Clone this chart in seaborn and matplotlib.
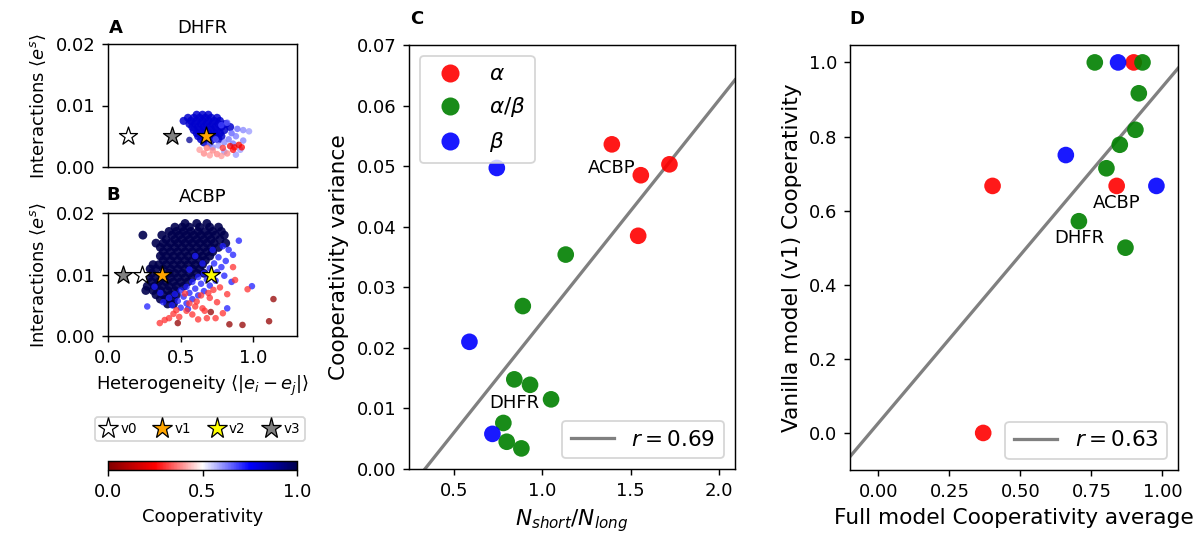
import numpy as np
import pandas as pd
import matplotlib
matplotlib.use("Agg")
import matplotlib.pyplot as plt
import seaborn as sns
from matplotlib.lines import Line2D
from matplotlib.cm import ScalarMappable
from matplotlib.colors import Normalize

# ---------------- data: panel A (DHFR) cloud ----------------
a_core_c = 0.82
a_core_rows = [
    (0.0085, [0.61, 0.65, 0.69]),
    (0.0080, [0.55, 0.59, 0.63, 0.67, 0.71, 0.75]),
    (0.0075, [0.52, 0.57, 0.61, 0.65, 0.69, 0.73, 0.77]),
    (0.0070, [0.56, 0.60, 0.64, 0.68, 0.72, 0.76, 0.81]),
    (0.0065, [0.58, 0.62, 0.66, 0.70, 0.74, 0.78, 0.84]),
    (0.0060, [0.59, 0.63, 0.67, 0.71, 0.75, 0.80]),
    (0.0055, [0.61, 0.65, 0.69, 0.73, 0.77]),
    (0.0050, [0.62, 0.66, 0.70, 0.74, 0.78]),
    (0.0045, [0.64, 0.68, 0.72, 0.76]),
    (0.0040, [0.66, 0.70]),
]
a_lightblue_x = [0.97, 0.93, 0.89, 0.85, 0.88, 0.83, 0.80, 0.76, 0.72, 0.86, 0.91, 0.78, 0.82, 0.74, 0.70, 0.88, 0.80, 0.93, 0.56]
a_lightblue_y = [0.0058, 0.0060, 0.0062, 0.0055, 0.0050, 0.0045, 0.0040, 0.0035, 0.0032, 0.0038, 0.0028, 0.0068, 0.0072, 0.0045, 0.0038, 0.0020, 0.0025, 0.0043, 0.0044]
a_lightblue_c = [0.6, 0.62, 0.65, 0.66, 0.63, 0.64, 0.62, 0.6, 0.62, 0.64, 0.6, 0.68, 0.66, 0.66, 0.63, 0.6, 0.6, 0.62, 0.9]
a_red_x = [0.84, 0.87, 0.90, 0.92, 0.86, 0.79, 0.66, 0.70, 0.75, 0.78, 0.72, 0.63, 0.82, 0.68]
a_red_y = [0.0034, 0.0032, 0.0036, 0.0032, 0.0028, 0.0031, 0.0022, 0.0019, 0.0021, 0.0018, 0.0027, 0.0028, 0.0022, 0.0031]
a_red_c = [0.22, 0.24, 0.22, 0.25, 0.26, 0.3, 0.38, 0.4, 0.38, 0.4, 0.38, 0.4, 0.38, 0.36]

# ---------------- data: panel B (ACBP) cloud ----------------
b_navy_c = 1.0
b_navy_rows = [
    (0.0183, [0.53, 0.61, 0.68]),
    (0.0177, [0.46, 0.51, 0.56, 0.63, 0.70, 0.76]),
    (0.0170, [0.42, 0.47, 0.52, 0.57, 0.62, 0.67, 0.72, 0.78]),
    (0.0164, [0.24, 0.37, 0.44, 0.49, 0.54, 0.59, 0.64, 0.69, 0.74, 0.80]),
    (0.0157, [0.40, 0.46, 0.51, 0.56, 0.61, 0.66, 0.71, 0.77]),
    (0.0151, [0.33, 0.38, 0.43, 0.48, 0.53, 0.58, 0.63, 0.68, 0.73, 0.81]),
    (0.0144, [0.36, 0.41, 0.46, 0.51, 0.56, 0.61, 0.66, 0.71, 0.76]),
    (0.0137, [0.38, 0.43, 0.48, 0.53, 0.58, 0.63, 0.68, 0.72]),
    (0.0130, [0.36, 0.40, 0.45, 0.50, 0.55, 0.60, 0.65, 0.70]),
    (0.0123, [0.38, 0.43, 0.48, 0.53, 0.58, 0.63, 0.67]),
    (0.0116, [0.31, 0.35, 0.40, 0.45, 0.50, 0.55, 0.60, 0.65]),
    (0.0109, [0.29, 0.33, 0.38, 0.43, 0.48, 0.53, 0.58, 0.63]),
    (0.0102, [0.30, 0.42, 0.46, 0.51, 0.56, 0.61, 0.66]),
    (0.0095, [0.28, 0.33, 0.38, 0.43, 0.48, 0.53, 0.58]),
    (0.0088, [0.30, 0.35, 0.40, 0.45, 0.50, 0.55]),
    (0.0081, [0.27, 0.32, 0.37, 0.42, 0.47, 0.52]),
    (0.0074, [0.26, 0.31, 0.36, 0.41, 0.46]),
    (0.0067, [0.33, 0.38, 0.43, 0.47]),
    (0.0060, [0.36, 0.40, 0.45]),
    (0.0052, [0.41, 0.45]),
]
b_blue_x = [0.90, 0.83, 0.79, 0.86, 0.76, 0.81, 0.73, 0.78, 0.70, 0.75, 0.66, 0.80, 0.62, 0.68, 0.74,
            0.58, 0.64, 0.70, 0.54, 0.60, 0.66, 0.50, 0.56, 0.62, 0.46, 0.52, 0.58, 0.42, 0.48, 0.54,
            0.44, 0.50, 0.38, 0.99, 0.82, 0.27, 0.60, 0.65, 0.56, 0.72, 0.36, 0.32, 0.55, 0.85]
b_blue_y = [0.0155, 0.0140, 0.0146, 0.0132, 0.0128, 0.0122, 0.0118, 0.0112, 0.0110, 0.0104, 0.0102,
            0.0098, 0.0096, 0.0092, 0.0090, 0.0088, 0.0085, 0.0082, 0.0080, 0.0077, 0.0073, 0.0074,
            0.0070, 0.0066, 0.0068, 0.0064, 0.0060, 0.0062, 0.0057, 0.0053, 0.0050, 0.0046, 0.0055,
            0.0081, 0.0045, 0.0048, 0.0130, 0.0118, 0.0108, 0.0140, 0.0070, 0.0080, 0.0044, 0.0088]
b_blue_c = 0.72
b_red_x = [0.356, 0.42, 0.49, 0.54, 0.56, 0.61, 0.665, 0.53, 0.64, 0.47, 0.874, 0.96, 0.86, 0.68,
           0.74, 0.79, 0.65, 0.725, 0.77, 0.70, 0.58, 0.45, 0.39, 0.62, 0.75, 0.69, 0.82, 0.60]
b_red_y = [0.0021, 0.0029, 0.0031, 0.0041, 0.0053, 0.0056, 0.0041, 0.0069, 0.0066, 0.0042, 0.0091,
           0.0076, 0.0112, 0.0029, 0.0029, 0.0037, 0.0045, 0.0075, 0.0079, 0.0062, 0.0035, 0.0036,
           0.0026, 0.0027, 0.0055, 0.0070, 0.0068, 0.0048]
b_red_c = 0.30
b_dark_x = [0.48, 0.707, 0.835, 0.925, 1.108, 1.138]
b_dark_y = [0.0021, 0.0039, 0.0019, 0.0018, 0.0024, 0.0060]
b_dark_c = 0.04

# stars (model versions)
star_names = ["v0", "v1", "v2", "v3"]
star_colors = ["white", "orange", "yellow", "gray"]
a_star_names = ["v0", "v3", "v1"]
a_star_x = [0.136, 0.443, 0.672]
a_star_y = [0.0050, 0.0050, 0.0050]
b_star_names = ["v3", "v0", "v1", "v2"]
b_star_x = [0.10, 0.232, 0.374, 0.707]
b_star_y = [0.0100, 0.0100, 0.0100, 0.0100]

# ---------------- data: panel C ----------------
classes = ["$\\alpha$", "$\\alpha/\\beta$", "$\\beta$"]
class_colors = ["red", "green", "blue"]
c_class = ["$\\alpha$"] * 4 + ["$\\alpha/\\beta$"] * 8 + ["$\\beta$"] * 3
c_x = [1.393, 1.557, 1.719, 1.542,
       1.132, 0.889, 0.841, 0.930, 1.049, 0.779, 0.798, 0.881,
       0.742, 0.587, 0.717]
c_y = [0.0536, 0.0485, 0.0503, 0.0385,
       0.0354, 0.0269, 0.0148, 0.0139, 0.0115, 0.0076, 0.0045, 0.0034,
       0.0497, 0.0210, 0.0058]
c_labels = {"ACBP": (1.393, 0.0536), "DHFR": (0.841, 0.0148)}

# ---------------- data: panel D ----------------
d_class = ["$\\alpha$"] * 4 + ["$\\alpha/\\beta$"] * 8 + ["$\\beta$"] * 3
d_x = [0.899, 0.402, 0.839, 0.369,
       0.762, 0.930, 0.917, 0.905, 0.850, 0.803, 0.706, 0.870,
       0.844, 0.660, 0.979]
d_y = [1.0, 0.6667, 0.6667, 0.0,
       1.0, 1.0, 0.9167, 0.8182, 0.7778, 0.7143, 0.5714, 0.5,
       1.0, 0.75, 0.6667]
d_labels = {"ACBP": (0.839, 0.6667), "DHFR": (0.706, 0.5714)}


def expand(rows, cval):
    xs, ys = [], []
    for yv, xl in rows:
        xs += list(xl)
        ys += [yv] * len(xl)
    return xs, ys, [cval] * len(xs)


# ---------------- figure ----------------
plt.rcParams["font.family"] = ["DejaVu Sans"]
DPI = 130
W, H = 1203, 539
fig = plt.figure(figsize=(W / DPI, H / DPI), dpi=DPI)


def frac(l, t, r, b):
    return [l / W, 1 - b / H, (r - l) / W, (b - t) / H]


axA = fig.add_axes(frac(108, 44, 297, 167))
axB = fig.add_axes(frac(108, 213, 297, 336))
cax = fig.add_axes(frac(108, 461, 297, 470))
axC = fig.add_axes(frac(409, 45, 735, 469))
axD = fig.add_axes(frac(850, 45, 1178, 470))

cmap = "seismic_r"
norm = (0, 1)


def cloud(ax, xs, ys, cs, size, alpha):
    df = pd.DataFrame({"x": xs, "y": ys, "c": cs})
    sns.scatterplot(data=df, x="x", y="y", hue="c", palette=cmap, hue_norm=norm,
                    legend=False, s=size, linewidth=0, alpha=alpha, ax=ax)


# Panel A
ax_, ay_, ac_ = expand(a_core_rows, a_core_c)
cloud(axA, ax_, ay_, ac_, 20, 0.85)
cloud(axA, a_lightblue_x + a_red_x, a_lightblue_y + a_red_y, a_lightblue_c + a_red_c, 13, 0.75)
for n, xx, yy in zip(a_star_names, a_star_x, a_star_y):
    axA.scatter([xx], [yy], marker="*", s=110, c=star_colors[star_names.index(n)],
                edgecolors="black", linewidths=0.7, zorder=5)
axA.set_xlim(0, 1.3)
axA.set_ylim(0, 0.02)
axA.set_xticks([])
axA.set_yticks([0, 0.01, 0.02])
axA.set_xlabel("")
axA.set_ylabel(r"Interactions $\langle e^s \rangle$", fontsize=10)
axA.set_title("DHFR", fontsize=10)
axA.text(0.04, 1.13, "A", transform=axA.transAxes, fontsize=10, fontweight="bold",
         ha="center", va="center")

# Panel B
bx_, by_, bc_ = expand(b_navy_rows, b_navy_c)
cloud(axB, bx_, by_, bc_, 24, 0.9)
cloud(axB,
      b_blue_x + b_red_x + b_dark_x,
      b_blue_y + b_red_y + b_dark_y,
      [b_blue_c] * len(b_blue_x) + [b_red_c] * len(b_red_x) + [b_dark_c] * len(b_dark_x),
      13, 0.75)
for n, xx, yy in zip(b_star_names, b_star_x, b_star_y):
    axB.scatter([xx], [yy], marker="*", s=110, c=star_colors[star_names.index(n)],
                edgecolors="black", linewidths=0.7, zorder=5)
axB.set_xlim(0, 1.3)
axB.set_ylim(0, 0.02)
axB.set_xticks([0, 0.5, 1.0])
axB.set_yticks([0, 0.01, 0.02])
axB.set_ylabel(r"Interactions $\langle e^s \rangle$", fontsize=10)
axB.set_xlabel(r"Heterogeneity $\langle |e_i - e_j| \rangle$", fontsize=10)
axB.set_title("ACBP", fontsize=10)
axB.text(0.03, 1.145, "B", transform=axB.transAxes, fontsize=10, fontweight="bold",
         ha="center", va="center")

# star legend
star_handles = [Line2D([], [], linestyle="none", marker="*", markersize=12,
                       markerfacecolor=c, markeredgecolor="black", markeredgewidth=0.7)
                for c in star_colors]
fig.legend(star_handles, star_names, loc="center", ncol=4,
           bbox_to_anchor=(200 / W, 1 - 429 / H), fontsize=7.5,
           handlelength=1.2, handletextpad=0.3, columnspacing=1.3,
           borderpad=0.35, frameon=True)

# colorbar
sm = ScalarMappable(norm=Normalize(0, 1), cmap=cmap)
cb = fig.colorbar(sm, cax=cax, orientation="horizontal", ticks=[0, 0.5, 1.0])
cb.set_label("Cooperativity", fontsize=10)
cb.ax.tick_params(labelsize=10)

pal = dict(zip(classes, class_colors))


def class_panel(ax, cls, xs, ys, labels, xlim, ylim, off):
    df = pd.DataFrame({"x": xs, "y": ys, "cls": cls})
    ax.set_xlim(*xlim)
    ax.set_ylim(*ylim)
    r = np.corrcoef(xs, ys)[0, 1]
    sns.regplot(data=df, x="x", y="y", scatter=False, ci=None, truncate=False, ax=ax,
                color="gray", line_kws=dict(lw=1.8), label=f"$r = {r:.2f}$")
    sns.scatterplot(data=df, x="x", y="y", hue="cls", palette=pal, hue_order=classes,
                    s=85, linewidth=0, alpha=0.9, ax=ax, legend=False, zorder=3)
    for name, (lx, ly) in labels.items():
        ax.annotate(name, (lx, ly), xytext=(0, off), textcoords="offset points",
                    ha="center", va="center", fontsize=10, zorder=4)
    ax.set_xlim(*xlim)
    ax.set_ylim(*ylim)
    leg = ax.legend(loc="lower right", fontsize=12)
    return leg


leg_r = class_panel(axC, c_class, c_x, c_y, c_labels, (0.245, 2.09), (0, 0.07), -13)
axC.add_artist(leg_r)
cls_handles = [Line2D([], [], linestyle="none", marker="o", markersize=10,
                      markerfacecolor=c, markeredgewidth=0, alpha=0.9) for c in class_colors]
axC.legend(cls_handles, classes, loc="upper left", fontsize=12)
axC.set_xticks([0.5, 1.0, 1.5, 2.0])
axC.set_xlabel("$N_{short}/N_{long}$", fontsize=12)
axC.set_ylabel("Cooperativity variance", fontsize=12)
axC.text(0.025, 1.061, "C", transform=axC.transAxes, fontsize=10, fontweight="bold",
         ha="center", va="center")

class_panel(axD, d_class, d_x, d_y, d_labels, (-0.1, 1.055), (-0.1, 1.047), -9.5)
axD.set_xticks([0, 0.25, 0.5, 0.75, 1.0])
axD.set_yticks([0, 0.2, 0.4, 0.6, 0.8, 1.0])
axD.set_xlabel("Full model Cooperativity average", fontsize=12)
axD.set_ylabel("Vanilla model (v1) Cooperativity", fontsize=12)
axD.text(0.02, 1.061, "D", transform=axD.transAxes, fontsize=10, fontweight="bold",
         ha="center", va="center")

for ax in (axA, axB, axC, axD):
    ax.tick_params(labelsize=10)

fig.savefig("out.png", dpi=DPI)
